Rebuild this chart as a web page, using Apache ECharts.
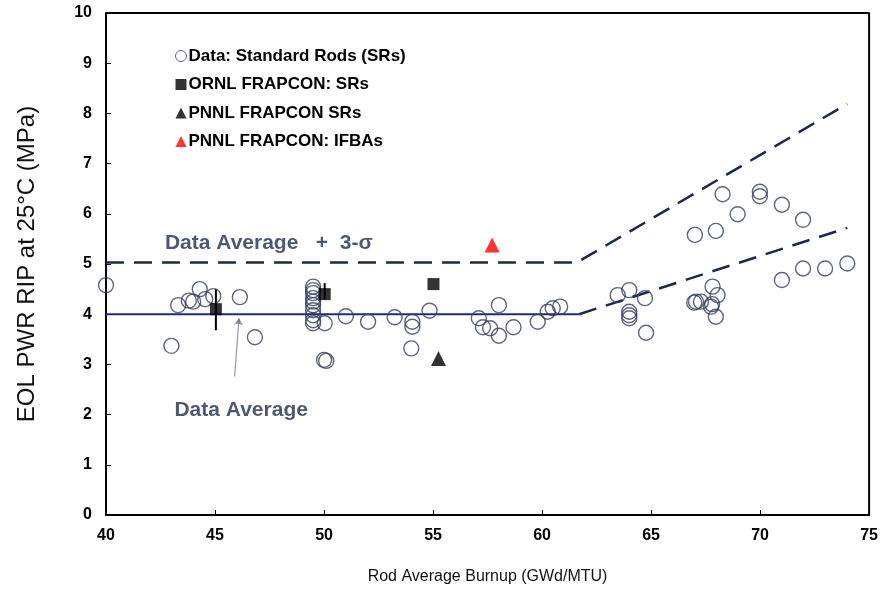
<!DOCTYPE html>
<html>
<head>
<meta charset="utf-8">
<script src="https://cdn.jsdelivr.net/npm/echarts@6/dist/echarts.min.js"></script>
<style>html,body{margin:0;padding:0;background:#fff}#c{width:881px;height:598px}</style>
</head>
<body>
<div id="c"></div>
<script>
// ---- data ----
const xTicks = [40, 45, 50, 55, 60, 65, 70, 75];
const yTicks = [0, 1, 2, 3, 4, 5, 6, 7, 8, 9, 10];
const dataSRs = [
  [40.0,4.58],[43.0,3.37],[43.31,4.18],[43.8,4.27],[44.0,4.25],[44.3,4.50],[44.55,4.30],[44.92,4.36],
  [46.14,4.34],[46.83,3.54],
  [49.5,4.55],[49.5,4.48],[49.5,4.42],[49.5,4.32],[49.5,4.25],[49.5,4.18],[49.5,4.08],[49.5,3.98],[49.5,3.88],[49.5,3.82],
  [50.03,3.82],[50.0,3.09],[50.1,3.07],
  [51.0,3.96],[52.02,3.85],[53.24,3.94],[54.05,3.85],[54.05,3.75],[54.0,3.32],[54.84,4.07],
  [57.1,3.92],[57.29,3.74],[57.62,3.72],[58.02,4.18],[58.02,3.57],[58.69,3.74],[59.8,3.85],
  [60.26,4.05],[60.49,4.12],[60.83,4.15],
  [63.47,4.38],[64.0,4.48],[64.0,4.05],[64.0,3.98],[64.0,3.92],[64.72,4.32],[64.77,3.63],
  [66.98,4.23],[67.06,4.25],[67.29,4.25],[67.82,4.55],[68.05,4.38],[67.75,4.15],[67.97,3.95],[67.8,4.2],
  [67.01,5.58],[67.97,5.66],[68.28,6.39],[68.97,5.99],[69.99,6.44],[69.99,6.35],[71.0,6.18],[71.97,5.88],
  [71.0,4.68],[71.97,4.91],[72.98,4.91],[74.0,5.01]
];
const ornlSRs = [[45.04,4.10],[50.03,4.40],[55.02,4.60]];
const ornlErr = [[45.04,3.68,4.50],[50.03,4.30,4.62]];
const pnnlSRs = [[55.25,3.12]];
const pnnlIFBA = [[57.71,5.38]];
const avgSolid = [[40,4.0],[61.7,4.0]];
const avgDashed = [[61.7,4.0],[74,5.72]];
const upperDashed = [[40,5.03],[61.6,5.03],[74,8.19]];
const arrowLine = [[45.9,2.76],[46.1,3.92]];
const annotUpper = [{name:'Data Average   +  3-σ', value:[47.47,5.42]}];
const annotLower = [{name:'Data Average', value:[46.2,2.09]}];

const navy = '#1c2a48';
const chart = echarts.init(document.getElementById('c'), null, {renderer:'canvas'});
const font = 'Arial, "Liberation Sans", sans-serif';

const errSeries = ornlErr.map(e => ({
  type:'line', data:[[e[0],e[1]],[e[0],e[2]]], symbol:'none', silent:true,
  lineStyle:{color:'#000', width:2}, z:3
}));

const annLabel = (size) => ({show:true, position:'inside', formatter:p=>p.name, fontFamily:font,
  fontSize:size, fontWeight:'bold', color:'#1f2d4d'});

chart.setOption({
  animation:false,
  backgroundColor:'#fff',
  textStyle:{fontFamily:font},
  grid:{left:106, right:11, top:13, bottom:83, show:false},
  legend:{
    orient:'vertical', left:170, top:42, itemWidth:11, itemHeight:11, itemGap:10.5,
    textStyle:{fontFamily:font, fontSize:17, fontWeight:'bold', color:'#000', lineHeight:18, padding:[0,0,0,-3]},
    data:[
      {name:'Data: Standard Rods (SRs)', icon:'circle', itemStyle:{color:'#fff', borderColor:'#3a4a6a', borderWidth:1}},
      {name:'ORNL FRAPCON: SRs', icon:'rect'},
      {name:'PNNL FRAPCON SRs', icon:'triangle'},
      {name:'PNNL FRAPCON: IFBAs', icon:'triangle'}
    ]
  },
  xAxis:{
    type:'value', min:40, max:75, interval:5,
    name:'Rod Average Burnup (GWd/MTU)', nameLocation:'middle', nameGap:54,
    nameTextStyle:{fontFamily:font, fontSize:16, color:'#111'},
    axisLine:{show:true, onZero:false, lineStyle:{color:'#000', width:2}},
    axisTick:{show:true, inside:true, length:5, lineStyle:{color:'#000', width:1}},
    axisLabel:{fontFamily:font, fontSize:16, fontWeight:'bold', color:'#000', margin:13},
    splitLine:{show:false}
  },
  yAxis:{
    type:'value', min:0, max:10, interval:1,
    name:'EOL PWR RIP at 25°C (MPa)', nameLocation:'middle', nameGap:67,
    nameTextStyle:{fontFamily:font, fontSize:24, color:'#111'},
    axisLine:{show:true, onZero:false, lineStyle:{color:'#000', width:2}},
    axisTick:{show:true, inside:true, length:5, lineStyle:{color:'#000', width:1}},
    axisLabel:{fontFamily:font, fontSize:16, fontWeight:'bold', color:'#000', margin:14},
    splitLine:{show:false}
  },
  series:[
    {type:'line', data:[[40,10],[75,10],[75,0]], symbol:'none', silent:true, lineStyle:{color:'#000', width:2}, z:1},
    {type:'line', data:avgSolid, symbol:'none', silent:true, lineStyle:{color:'#1f2a86', width:2}, z:2},
    {type:'line', data:avgDashed, symbol:'none', silent:true, lineStyle:{color:navy, width:2.5, type:[18,10]}, z:2},
    {type:'line', data:upperDashed, symbol:'none', silent:true, lineStyle:{color:navy, width:2.5, type:[18,10]}, z:2},
    {type:'lines', coordinateSystem:'cartesian2d', polyline:false, silent:true,
      data:[{coords:arrowLine}], symbol:['none','arrow'], symbolSize:7,
      lineStyle:{color:'#2a3550', width:1.2}, z:2},
    {name:'Data: Standard Rods (SRs)', type:'scatter', data:dataSRs, symbol:'circle', symbolSize:15,
      itemStyle:{color:'rgba(255,255,255,0)', borderColor:'#34405e', borderWidth:1.4}, z:4},
    ...errSeries,
    {name:'ORNL FRAPCON: SRs', type:'scatter', data:ornlSRs, symbol:'rect', symbolSize:12,
      itemStyle:{color:'#000'}, z:5},
    {name:'PNNL FRAPCON SRs', type:'scatter', data:pnnlSRs, symbol:'triangle', symbolSize:15,
      itemStyle:{color:'#000'}, z:5},
    {name:'PNNL FRAPCON: IFBAs', type:'scatter', data:pnnlIFBA, symbol:'triangle', symbolSize:15,
      itemStyle:{color:'#ff0000'}, z:5},
    {type:'scatter', data:annotUpper, symbolSize:0, silent:true, z:6, label:annLabel(21)},
    {type:'scatter', data:annotLower, symbolSize:0, silent:true, z:6, label:annLabel(21)}
  ]
});
</script>
</body>
</html>
